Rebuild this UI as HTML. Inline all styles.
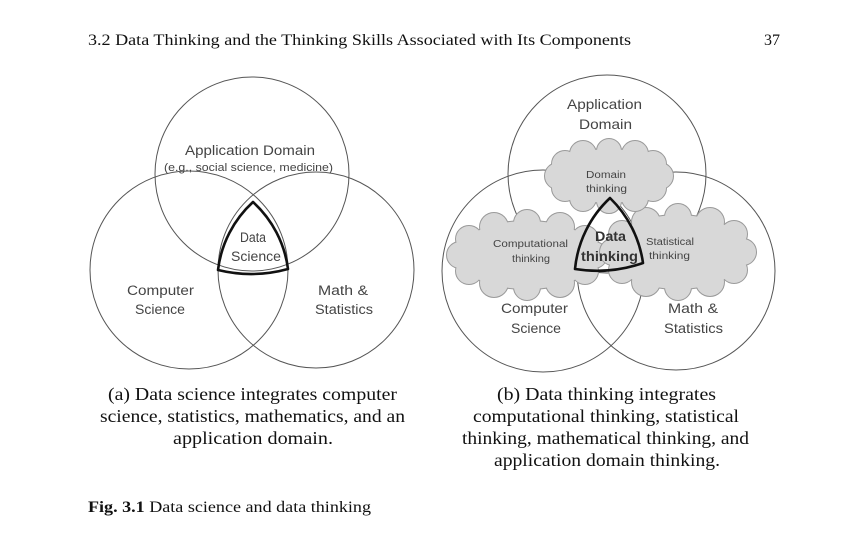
<!DOCTYPE html>
<html><head><meta charset="utf-8"><style>
html,body{margin:0;padding:0;background:#fff;}
svg{display:block}
.s{font-family:"Liberation Sans",sans-serif;fill:#444;}
.t{font-family:"Liberation Serif",serif;fill:#111;}
</style></head><body>
<svg width="860" height="536" viewBox="0 0 860 536" xmlns="http://www.w3.org/2000/svg">
<defs>
<g id="cc">
<circle cx="594" cy="255" r="13"/><circle cx="585" cy="271" r="13"/><circle cx="560" cy="283" r="14"/><circle cx="527" cy="287" r="13"/><circle cx="494" cy="283" r="14"/><circle cx="469" cy="271" r="13"/><circle cx="460" cy="255" r="13"/><circle cx="469" cy="239" r="13"/><circle cx="494" cy="227" r="14"/><circle cx="527" cy="223" r="13"/><circle cx="560" cy="227" r="14"/><circle cx="585" cy="239" r="13"/><ellipse cx="527" cy="255" rx="70" ry="34"/>
</g>
<g id="sc">
<circle cx="743" cy="252" r="13"/><circle cx="734" cy="270" r="13"/><circle cx="710" cy="282" r="14"/><circle cx="678" cy="287" r="13"/><circle cx="646" cy="282" r="14"/><circle cx="622" cy="270" r="13"/><circle cx="613" cy="252" r="13"/><circle cx="622" cy="234" r="13"/><circle cx="646" cy="222" r="14"/><circle cx="678" cy="217" r="13"/><circle cx="710" cy="222" r="14"/><circle cx="734" cy="234" r="13"/><ellipse cx="678" cy="252" rx="68" ry="37"/>
</g>
<g id="dc">
<circle cx="660" cy="176" r="13"/><circle cx="653" cy="188" r="13"/><circle cx="635" cy="198" r="13"/><circle cx="609" cy="201" r="12"/><circle cx="583" cy="198" r="13"/><circle cx="565" cy="188" r="13"/><circle cx="558" cy="176" r="13"/><circle cx="565" cy="164" r="13"/><circle cx="583" cy="154" r="13"/><circle cx="609" cy="151" r="12"/><circle cx="635" cy="154" r="13"/><circle cx="653" cy="164" r="13"/><ellipse cx="609" cy="176" rx="54" ry="27"/>
</g>
</defs>
<rect width="860" height="536" fill="#fff"/>
<text class="t" x="88" y="45" font-size="16" textLength="543" lengthAdjust="spacingAndGlyphs">3.2  Data Thinking and the Thinking Skills Associated with Its Components</text>
<text class="t" x="764" y="45" font-size="16">37</text>

<g fill="none" stroke="#555" stroke-width="1">
<circle cx="252" cy="174" r="97"/>
<circle cx="189" cy="270" r="99"/>
<circle cx="316" cy="270" r="98"/>
</g>
<path d="M253,202 A110,110 0 0 1 288,269 A140,140 0 0 1 218,270 A110,110 0 0 1 253,202 Z" fill="none" stroke="#111" stroke-width="2.6" stroke-linejoin="round"/>
<g class="s" font-size="13.5">
<text x="185" y="155" textLength="130" lengthAdjust="spacingAndGlyphs">Application Domain</text>
<text x="164" y="171" font-size="11" textLength="169" lengthAdjust="spacingAndGlyphs">(e.g., social science, medicine)</text>
<text x="240" y="242" textLength="26" lengthAdjust="spacingAndGlyphs">Data</text>
<text x="231" y="261" textLength="50" lengthAdjust="spacingAndGlyphs">Science</text>
<text x="127" y="295" textLength="67" lengthAdjust="spacingAndGlyphs">Computer</text>
<text x="135" y="314" textLength="50" lengthAdjust="spacingAndGlyphs">Science</text>
<text x="318" y="295" textLength="50" lengthAdjust="spacingAndGlyphs">Math &amp;</text>
<text x="315" y="314" textLength="58" lengthAdjust="spacingAndGlyphs">Statistics</text>
</g>

<g fill="none" stroke="#555" stroke-width="1">
<circle cx="607" cy="174" r="99"/>
<circle cx="543" cy="271" r="101"/>
<circle cx="676" cy="271" r="99"/>
</g>
<use href="#cc" fill="none" stroke="#9a9a9a" stroke-width="2"/>
<use href="#cc" fill="#d8d8d8" stroke="none"/>
<use href="#sc" fill="none" stroke="#9a9a9a" stroke-width="2"/>
<use href="#sc" fill="#d8d8d8" stroke="none"/>
<use href="#dc" fill="none" stroke="#9a9a9a" stroke-width="2"/>
<use href="#dc" fill="#d8d8d8" stroke="none"/>
<path d="M610,198 A112,112 0 0 1 643,263 A140,140 0 0 1 575,269 A112,112 0 0 1 610,198 Z" fill="none" stroke="#111" stroke-width="2.6" stroke-linejoin="round"/>
<g class="s" font-size="14">
<text x="567" y="109" textLength="75" lengthAdjust="spacingAndGlyphs">Application</text>
<text x="579" y="129" textLength="53" lengthAdjust="spacingAndGlyphs">Domain</text>
<text x="586" y="178" font-size="10" textLength="40" lengthAdjust="spacingAndGlyphs">Domain</text>
<text x="586" y="192" font-size="10" textLength="41" lengthAdjust="spacingAndGlyphs">thinking</text>
<text x="493" y="247" font-size="10" textLength="75" lengthAdjust="spacingAndGlyphs">Computational</text>
<text x="512" y="262" font-size="10" textLength="38" lengthAdjust="spacingAndGlyphs">thinking</text>
<text x="646" y="245" font-size="10" textLength="48" lengthAdjust="spacingAndGlyphs">Statistical</text>
<text x="649" y="259" font-size="10" textLength="41" lengthAdjust="spacingAndGlyphs">thinking</text>
<text x="595" y="241" font-size="14" font-weight="bold" fill="#333" textLength="31" lengthAdjust="spacingAndGlyphs">Data</text>
<text x="581" y="261" font-size="14" font-weight="bold" fill="#333" textLength="57" lengthAdjust="spacingAndGlyphs">thinking</text>
<text x="501" y="313" textLength="67" lengthAdjust="spacingAndGlyphs">Computer</text>
<text x="511" y="333" textLength="50" lengthAdjust="spacingAndGlyphs">Science</text>
<text x="668" y="313" textLength="50" lengthAdjust="spacingAndGlyphs">Math &amp;</text>
<text x="664" y="333" textLength="59" lengthAdjust="spacingAndGlyphs">Statistics</text>
</g>

<g class="t" font-size="18">
<text x="108" y="400" textLength="289" lengthAdjust="spacingAndGlyphs">(a) Data science integrates computer</text>
<text x="100" y="422" textLength="305" lengthAdjust="spacingAndGlyphs">science, statistics, mathematics, and an</text>
<text x="173" y="444" textLength="160" lengthAdjust="spacingAndGlyphs">application domain.</text>
<text x="497" y="400" textLength="219" lengthAdjust="spacingAndGlyphs">(b) Data thinking integrates</text>
<text x="473" y="422" textLength="266" lengthAdjust="spacingAndGlyphs">computational thinking, statistical</text>
<text x="462" y="444" textLength="287" lengthAdjust="spacingAndGlyphs">thinking, mathematical thinking, and</text>
<text x="494" y="466" textLength="226" lengthAdjust="spacingAndGlyphs">application domain thinking.</text>
</g>
<text class="t" x="88" y="512" font-size="16" textLength="283" lengthAdjust="spacingAndGlyphs"><tspan font-weight="bold">Fig. 3.1</tspan>   Data science and data thinking</text>
</svg>
</body></html>
